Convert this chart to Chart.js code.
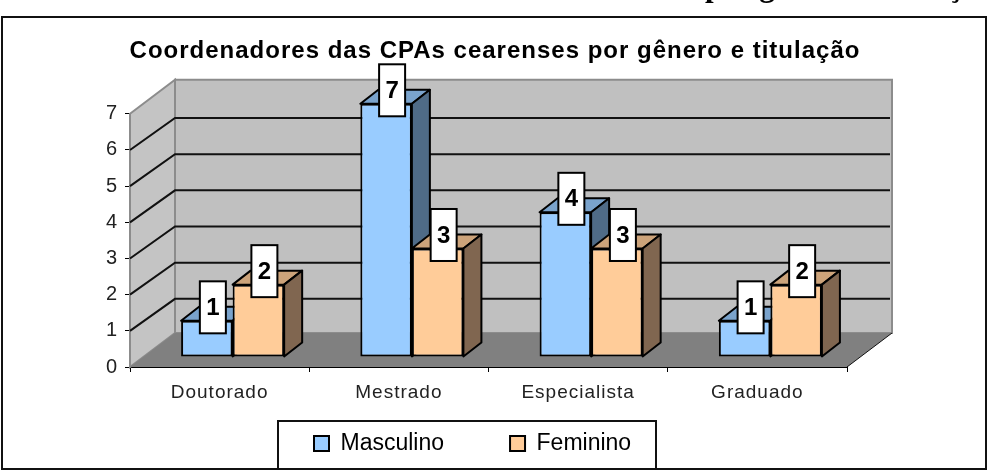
<!DOCTYPE html>
<html>
<head>
<meta charset="utf-8">
<style>
  html, body { margin: 0; padding: 0; background: #fff; overflow: hidden; }
  canvas { display: block; }
</style>
<script src="https://cdn.jsdelivr.net/npm/chart.js@4"></script>
</head>
<body>
<canvas id="chart" width="990" height="472"></canvas>
<script>
const categories = ["Doutorado", "Mestrado", "Especialista", "Graduado"];
const masculino = [1, 7, 4, 1];
const feminino = [2, 3, 3, 2];
const yTicks = [0, 1, 2, 3, 4, 5, 6, 7];

const FONT = "'Liberation Sans', Arial, sans-serif";
const faces = [
    { front: "#99ccff", top: "#7aa3cc", side: "#4f6b87" },
    { front: "#ffcc99", top: "#cca37a", side: "#806650" }
];
const wallDepth = { x: 45, y: -34 };
const gridDepthY = -32;
const barShift = { x: 13, y: -10 };
const barDepth = { x: 18, y: -14 };

function poly(ctx, pts, fill, stroke, width) {
    ctx.beginPath();
    pts.forEach((p, i) => i ? ctx.lineTo(p[0], p[1]) : ctx.moveTo(p[0], p[1]));
    ctx.closePath();
    if (fill) { ctx.fillStyle = fill; ctx.fill(); }
    if (stroke) { ctx.strokeStyle = stroke; ctx.lineWidth = width; ctx.stroke(); }
}

const layoutFix = {
    id: "layoutFix",
    afterLayout(chart) {
        chart.titleBlock.left = 0;
        chart.titleBlock.right = 990;
        const legend = chart.legend;
        legend.left = 248;
        legend.top = 366;
        // legend text is tighter than the axis text
        if (!legend.tight) {
            const draw = legend.draw.bind(legend);
            legend.draw = function () {
                const old = chart.ctx.letterSpacing;
                chart.ctx.letterSpacing = "0px";
                draw();
                chart.ctx.letterSpacing = old;
            };
            legend.tight = true;
        }
    },
    beforeDraw(chart) {
        const ctx = chart.ctx;
        ctx.letterSpacing = "0px";
        // line of the page text above the chart, cut by the top edge
        ctx.save();
        ctx.fillStyle = "#000";
        ctx.font = "bold 31px 'Liberation Serif', serif";
        ctx.textBaseline = "alphabetic";
        ctx.fillText("por gênero e titulação", 705, -4);
        ctx.strokeStyle = "#111";
        ctx.lineWidth = 2;
        ctx.strokeRect(2, 17, 984, 452);
        ctx.restore();
        ctx.letterSpacing = "1px";
    }
};

// walls and floor, placed from the scales
const walls = {
    id: "walls",
    beforeDatasetsDraw(chart) {
        const ctx = chart.ctx, x = chart.scales.x, y = chart.scales.y;
        const l = x.left, r = x.right, b = y.bottom, t = y.top;
        const dx = wallDepth.x, dy = wallDepth.y;
        ctx.save();
        poly(ctx, [[l + dx, t + dy], [r + dx, t + dy], [r + dx, b + dy], [l + dx, b + dy]], "#c0c0c0", "#8c8c8c", 2);
        poly(ctx, [[l, t], [l + dx, t + dy], [l + dx, b + dy], [l, b]], "#c4c4c4", "#8c8c8c", 2);
        poly(ctx, [[l, b], [l + dx, b + dy], [r + dx, b + dy], [r, b]], "#808080");
        ctx.strokeStyle = "#111";
        ctx.lineWidth = 2;
        yTicks.slice(1, -1).forEach(v => {
            const py = y.getPixelForValue(v);
            ctx.beginPath();
            ctx.moveTo(l, py);
            ctx.lineTo(l + dx, py + gridDepthY);
            ctx.lineTo(r + dx - 2, py + gridDepthY);
            ctx.stroke();
        });
        ctx.lineWidth = 1;
        ctx.beginPath();
        ctx.moveTo(r, b);
        ctx.lineTo(r + dx, b + dy);
        ctx.stroke();
        ctx.restore();
    }
};

// top and side of the bars, then the front moved onto the floor
const bars3d = {
    id: "bars3d",
    beforeDatasetsDraw(chart) {
        const ctx = chart.ctx;
        ctx.save();
        ctx.lineJoin = "round";
        [0, 1].forEach(d => {
            chart.getDatasetMeta(d).data.forEach(bar => {
                const left = bar.x - bar.width / 2 + barShift.x;
                const right = bar.x + bar.width / 2 + barShift.x;
                const top = bar.y + barShift.y;
                const base = bar.base + barShift.y;
                const ox = barDepth.x, oy = barDepth.y;
                poly(ctx, [[left, top], [left + ox, top + oy], [right + ox, top + oy], [right, top]], faces[d].top, "#000", 2);
                poly(ctx, [[right, top], [right + ox, top + oy], [right + ox, base + oy], [right, base]], faces[d].side, "#000", 2);
            });
        });
        ctx.restore();
    },
    beforeDatasetDraw(chart) {
        chart.ctx.save();
        chart.ctx.translate(barShift.x, barShift.y);
    },
    afterDatasetDraw(chart) {
        chart.ctx.restore();
    },
    afterDatasetsDraw(chart) {
        const ctx = chart.ctx;
        ctx.save();
        [0, 1].forEach(d => {
            chart.getDatasetMeta(d).data.forEach((bar, i) => {
                const cx = bar.x + barShift.x + 6;
                const cy = bar.y + barShift.y - 13.5;
                ctx.fillStyle = "#fff";
                ctx.strokeStyle = "#000";
                ctx.lineWidth = 2;
                ctx.fillRect(cx - 13, cy - 26, 26, 52);
                ctx.strokeRect(cx - 13, cy - 26, 26, 52);
                ctx.fillStyle = "#000";
                ctx.letterSpacing = "0px";
                ctx.font = "bold 24px " + FONT;
                ctx.textAlign = "center";
                ctx.textBaseline = "middle";
                ctx.fillText(String(chart.data.datasets[d].data[i]), cx, cy + 1);
            });
        });
        // box around the legend
        ctx.strokeStyle = "#111";
        ctx.lineWidth = 2;
        ctx.strokeRect(chart.legend.left + 30, 421, 378, 48);
        ctx.restore();
    }
};

new Chart(document.getElementById("chart"), {
    type: "bar",
    data: {
        labels: categories,
        datasets: [
            { label: "Masculino", data: masculino, backgroundColor: faces[0].front, borderColor: "#000", borderWidth: 2, borderSkipped: false, clip: false },
            { label: "Feminino", data: feminino, backgroundColor: faces[1].front, borderColor: "#000", borderWidth: 2, borderSkipped: false, clip: false }
        ]
    },
    options: {
        responsive: false,
        animation: false,
        events: [],
        layout: { padding: { left: 0, right: 143, top: 0, bottom: 0 } },
        categoryPercentage: 0.575,
        barPercentage: 1,
        scales: {
            x: {
                afterFit(s) { s.height = 55; },
                grid: { drawOnChartArea: false, drawTicks: true, tickLength: 5, color: "#000" },
                border: { color: "#000", width: 2 },
                ticks: { color: "#222", padding: 9, maxRotation: 0, font: { family: FONT, size: 19 } }
            },
            y: {
                min: 0,
                max: 7,
                afterFit(s) { s.width = 130; },
                afterBuildTicks(s) { s.ticks = yTicks.map(v => ({ value: v })); },
                grid: { drawOnChartArea: false, drawTicks: true, tickLength: 5, color: "#000" },
                border: { color: "#000", width: 2 },
                ticks: { color: "#222", padding: 7, font: { family: FONT, size: 20 } }
            }
        },
        plugins: {
            tooltip: { enabled: false },
            title: {
                display: true,
                text: "Coordenadores das CPAs cearenses por gênero e titulação",
                color: "#000",
                font: { family: FONT, size: 24, weight: "bold" },
                padding: { top: 37, bottom: 48 }
            },
            legend: {
                position: "bottom",
                align: "start",
                maxHeight: 50,
                labels: {
                    boxWidth: 15,
                    boxHeight: 15,
                    padding: 66,
                    color: "#000",
                    font: { family: FONT, size: 23 }
                }
            }
        }
    },
    plugins: [layoutFix, walls, bars3d]
});
</script>
</body>
</html>
